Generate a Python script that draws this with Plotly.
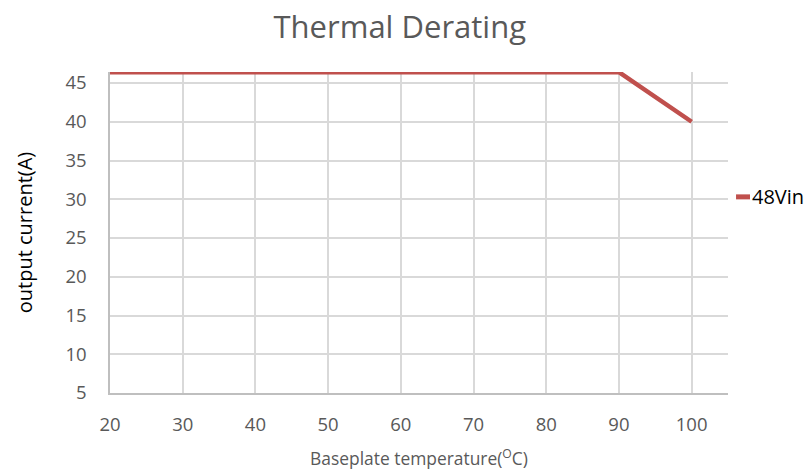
import plotly.graph_objects as go

temps = [20, 30, 40, 50, 60, 70, 80, 90, 100]
current_48vin = [46.4, 46.4, 46.4, 46.4, 46.4, 46.4, 46.4, 46.4, 40]
series_name = "48Vin"
x_ticks = [20, 30, 40, 50, 60, 70, 80, 90, 100]
y_ticks = [5, 10, 15, 20, 25, 30, 35, 40, 45]

FONT = "Open Sans"
GRAY = "#595959"
RED = "#c0504d"

fig = go.Figure()
fig.add_trace(go.Scatter(
    x=temps, y=current_48vin, mode="lines", name=series_name,
    line=dict(color=RED, width=4.5), cliponaxis=False, showlegend=False,
))

# legend drawn as key line + label to the right of the plot
fig.add_shape(type="line", xref="paper", yref="paper", x0=1.013, x1=1.0356, y0=0.611, y1=0.611,
              line=dict(color=RED, width=5))
fig.add_annotation(text=series_name, xref="paper", yref="paper", x=1.035, y=0.611,
                   xanchor="left", yanchor="middle", showarrow=False,
                   font=dict(family=FONT, size=20, color="black"))

fig.update_layout(
    width=806, height=470,
    paper_bgcolor="white", plot_bgcolor="white",
    margin=dict(l=110, r=78, t=72, b=77),
    title=dict(text="Thermal Derating", x=0.496, xanchor="center", y=0.943, yanchor="middle",
               font=dict(family=FONT, size=31, color=GRAY)),
    font=dict(family=FONT, size=18, color=GRAY),
    showlegend=False,
    xaxis=dict(range=[20, 105], tickvals=x_ticks, showgrid=True, gridcolor="#d9d9d9", gridwidth=1.5,
               showline=True, linecolor="#bfbfbf", linewidth=1.5, zeroline=False, automargin=False,
               ticks="", ticklabelstandoff=14,
               tickfont=dict(family=FONT, size=18.5, color=GRAY),
               title=dict(text="Baseplate temperature(<sup>O</sup>C)", standoff=18,
                          font=dict(family=FONT, size=17.4, color=GRAY))),
    yaxis=dict(range=[5, 46.42], tickvals=y_ticks, showgrid=True, gridcolor="#d9d9d9", gridwidth=1.5,
               showline=True, linecolor="#bfbfbf", linewidth=1.5, zeroline=False, automargin=False,
               ticks="", ticklabelstandoff=18,
               tickfont=dict(family=FONT, size=18.5, color=GRAY),
               title=dict(text="output current(A)", standoff=27,
                          font=dict(family=FONT, size=20, color="black"))),
)

fig.write_html("out.html", config={"displayModeBar": False},
               post_script="document.body.style.margin='0';document.body.style.overflow='hidden';")
